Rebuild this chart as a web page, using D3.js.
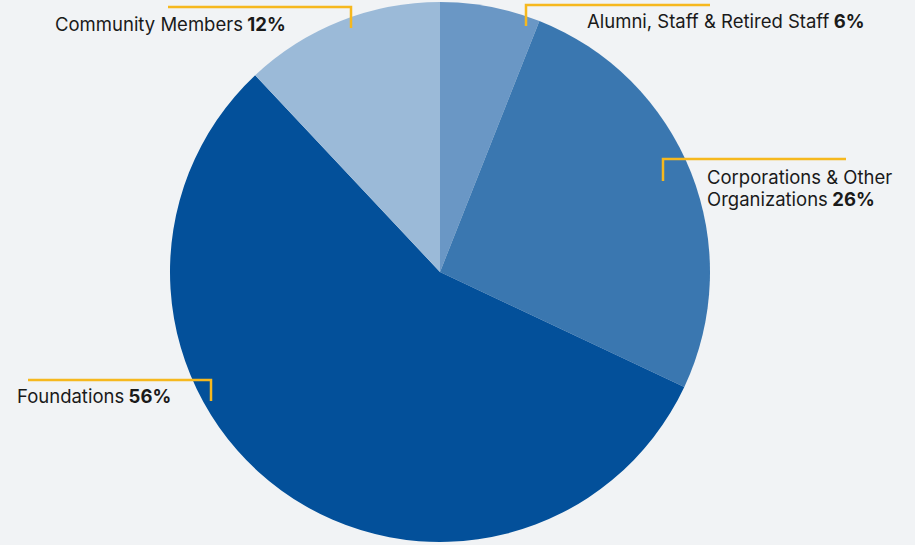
<!DOCTYPE html>
<html>
<head>
<meta charset="utf-8">
<script src="https://cdn.jsdelivr.net/npm/d3@7"></script>
<style>
  html, body { margin: 0; padding: 0; background: #f1f3f5; }
  text { font-family: Inter, "Open Sans", sans-serif; font-size: 18.5px; fill: #1a1a1a; }
</style>
</head>
<body>
<div id="chart"></div>
<script>
var categories = ["Alumni, Staff & Retired Staff", "Corporations & Other Organizations", "Foundations", "Community Members"];
var shares = [6, 26, 56, 12];
var colors = ["#6a97c5", "#3a77b0", "#03509a", "#9bbad8"];

var width = 915, height = 545;
var cx = 440, cy = 272, radius = 270;

// label placement: leader bracket (x1 -> x2 at y, then down to y2) and text lines
var labelLayout = [
  { lx1: 526, lx2: 710, ly: 5, ly2: 26, tx: 587, ty: 28, lines: ["Alumni, Staff & Retired Staff"] },
  { lx1: 663, lx2: 846, ly: 159, ly2: 181, tx: 707, ty: 184, lines: ["Corporations & Other", "Organizations"] },
  { lx1: 211, lx2: 28, ly: 380, ly2: 401, tx: 17, ty: 403, lines: ["Foundations"] },
  { lx1: 351, lx2: 168, ly: 7, ly2: 28, tx: 55, ty: 31, lines: ["Community Members"] }
];

var svg = d3.select("#chart").append("svg")
  .attr("width", width)
  .attr("height", height);

var pie = d3.pie().sort(null).value(function(d) { return d; });
var arc = d3.arc().innerRadius(0).outerRadius(radius);

var g = svg.append("g").attr("transform", "translate(" + cx + "," + cy + ")");

g.selectAll("path")
  .data(pie(shares))
  .enter().append("path")
    .attr("d", arc)
    .attr("fill", function(d, i) { return colors[i]; });

// leader brackets
svg.selectAll("path.leader")
  .data(labelLayout)
  .enter().append("path")
    .attr("class", "leader")
    .attr("fill", "none")
    .attr("stroke", "#f6b81e")
    .attr("stroke-width", 2.5)
    .attr("d", function(d) {
      return "M" + d.lx2 + "," + d.ly + "H" + d.lx1 + "V" + d.ly2;
    });

// labels
labelLayout.forEach(function(d, i) {
  var t = svg.append("text").attr("x", d.tx).attr("y", d.ty);
  d.lines.forEach(function(line, j) {
    t.append("tspan").attr("x", d.tx).attr("dy", j === 0 ? 0 : 22).text(line);
    if (j === d.lines.length - 1) {
      t.append("tspan").attr("font-weight", 700).text(" " + shares[i] + "%");
    }
  });
});
</script>
</body>
</html>
